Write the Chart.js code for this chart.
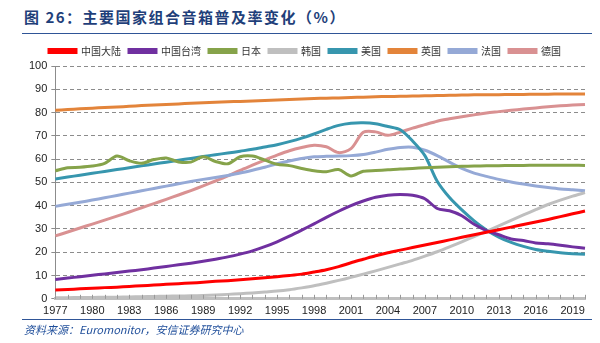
<!DOCTYPE html>
<html><head><meta charset="utf-8">
<script src="https://cdn.jsdelivr.net/npm/chart.js@4/dist/chart.umd.min.js"></script>
<style>
html,body{margin:0;padding:0;background:#fff;}
#wrap{position:relative;width:600px;height:343px;overflow:hidden;font-family:"Noto Sans CJK SC",sans-serif;}
#title{position:absolute;left:24px;top:6px;font-size:15px;font-weight:bold;color:#1F3F7A;letter-spacing:1.5px;white-space:nowrap;}
#tline{position:absolute;left:22px;top:33px;width:570px;height:0;border-top:1.5px solid #2F5597;}
#fline{position:absolute;left:22px;top:319px;width:570px;height:0;border-top:1.5px solid #2F5597;}
#foot{position:absolute;left:24px;top:321px;font-size:11px;font-style:italic;color:#1F4E9A;white-space:nowrap;}
#cv{position:absolute;left:0;top:36px;}
</style></head>
<body><div id="wrap">
<div id="title">图 26：主要国家组合音箱普及率变化（%）</div>
<div id="tline"></div>
<canvas id="cv" width="600" height="288"></canvas>
<div id="fline"></div>
<div id="foot">资料来源：Euromonitor，安信证券研究中心</div>
</div>
<script>
const years = [];
for (let y = 1977; y <= 2020; y++) years.push(String(y));
const seriesNames = ["中国大陆","中国台湾","日本","韩国","美国","英国","法国","德国"];
const chinaMainland = [3.8,4.0,4.3,4.5,4.8,5.0,5.3,5.6,5.9,6.2,6.5,6.8,7.1,7.5,7.8,8.2,8.6,9.0,9.5,10.0,10.6,11.5,12.5,13.8,15.5,17.0,18.5,19.8,20.9,22.0,23.1,24.2,25.3,26.4,27.5,28.6,29.7,30.8,31.9,33.0,34.1,35.3,36.5,37.7];
const chinaTaiwan = [8.3,8.9,9.5,10.1,10.7,11.3,11.9,12.5,13.2,13.9,14.6,15.3,16.1,17.0,18.0,19.2,20.6,22.4,24.5,26.9,29.5,32.2,35.0,37.6,40.0,42.0,43.6,44.5,44.8,44.5,43.0,38.8,37.8,35.7,32.0,29.3,27.5,25.7,25.0,24.0,23.6,23.0,22.3,21.7];
const japan = [55.0,56.3,56.5,57.0,58.2,61.3,59.3,58.2,59.8,60.5,58.8,58.7,61.0,59.0,58.0,61.0,61.3,59.6,57.8,57.2,56.0,55.0,54.6,55.5,52.8,54.8,55.1,55.4,55.8,56.0,56.3,56.5,56.7,56.9,57.0,57.1,57.2,57.3,57.3,57.4,57.4,57.4,57.4,57.3];
const korea = [0.5,0.5,0.6,0.6,0.7,0.7,0.8,0.9,1.0,1.1,1.2,1.3,1.4,1.6,1.9,2.2,2.5,2.9,3.3,3.9,4.7,5.6,6.7,7.9,9.2,10.6,12.0,13.5,15.0,16.5,18.3,20.2,22.3,24.5,26.7,29.0,31.3,33.7,36.0,38.3,40.5,42.4,44.1,45.6];
const usa = [51.5,52.3,53.1,53.9,54.7,55.5,56.3,57.1,57.9,58.7,59.5,60.3,61.1,61.9,62.6,63.4,64.2,65.2,66.2,67.5,69.0,70.8,72.8,74.5,75.4,75.6,75.2,74.0,72.6,67.8,61.5,50.5,43.5,38.2,33.5,29.6,26.5,24.2,22.5,21.2,20.4,19.8,19.4,19.1];
const uk = [81.0,81.3,81.6,81.9,82.2,82.4,82.7,83.0,83.2,83.5,83.7,84.0,84.2,84.4,84.6,84.8,85.0,85.2,85.4,85.6,85.8,86.0,86.2,86.3,86.5,86.6,86.8,86.9,87.0,87.1,87.2,87.3,87.4,87.5,87.6,87.6,87.7,87.8,87.8,87.9,87.9,88.0,88.0,88.0];
const france = [39.7,40.6,41.5,42.4,43.4,44.4,45.4,46.4,47.4,48.4,49.4,50.4,51.3,52.1,53.0,54.0,55.2,56.5,58.0,59.2,60.3,61.0,61.2,61.3,61.5,62.0,63.0,64.2,65.0,65.1,63.8,61.5,58.7,56.0,54.0,52.6,51.3,50.2,49.3,48.5,47.8,47.2,46.8,46.4];
const germany = [27.0,28.7,30.4,32.1,33.8,35.5,37.3,39.1,40.9,42.7,44.6,46.5,48.5,50.6,52.8,55.2,57.4,59.6,61.7,63.6,65.0,66.0,65.3,62.8,64.5,71.5,71.7,70.2,71.6,73.3,74.8,76.3,77.3,78.2,79.0,79.8,80.4,81.0,81.5,82.0,82.5,82.9,83.2,83.5];
const yTicks = [0,10,20,30,40,50,60,70,80,90,100];

const allData = [chinaMainland, chinaTaiwan, japan, korea, usa, uk, france, germany];
const colors = ["#FF0000","#7030A0","#86A34A","#BFBFBF","#3796AE","#E3843A","#95A9D6","#D99192"];

const datasets = seriesNames.map((n, i) => ({
  label: n, data: allData[i], borderColor: colors[i], backgroundColor: colors[i],
  borderWidth: 3, pointRadius: 0, tension: 0.3, fill: false
}));

const innerTicks = {
  id: 'innerTicks',
  afterDatasetsDraw(chart) {
    const xs = chart.scales.x, ctx = chart.ctx, b = chart.chartArea.bottom;
    ctx.save(); ctx.strokeStyle = '#999'; ctx.lineWidth = 1;
    xs.ticks.forEach((t, i) => {
      const x = Math.round(xs.getPixelForTick(i)) + 0.5;
      ctx.beginPath(); ctx.moveTo(x, b); ctx.lineTo(x, b - 4); ctx.stroke();
    });
    ctx.restore();
  }
};

new Chart(document.getElementById('cv'), {
  type: 'line',
  data: { labels: years, datasets },
  plugins: [innerTicks],
  options: {
    responsive: false, animation: false,
    layout: { padding: { left: 25, right: 15, top: 2, bottom: 0 } },
    plugins: {
      legend: {
        position: 'top',
        labels: { boxWidth: 27, boxHeight: 3, padding: 8, color: '#333',
          font: { family: '"Noto Sans CJK SC"', size: 10 } }
      },
      tooltip: { enabled: false }
    },
    scales: {
      x: {
        offset: false,
        grid: { display: false, drawTicks: false },
        border: { color: '#BFBFBF', width: 3 },
        ticks: { autoSkip: false, maxRotation: 0, padding: 6, color: '#222',
          font: { family: 'Liberation Sans, Arial', size: 11 },
          callback: (v, i) => ((i % 3 === 0) ? years[i] : '') }
      },
      y: {
        min: 0, max: 100,
        afterBuildTicks: (s) => { s.ticks = yTicks.map(v => ({ value: v })); },
        grid: { color: '#8C8C8C', lineWidth: 1, tickLength: 4, drawTicks: true,
          tickColor: '#8C8C8C' },
        border: { display: true, color: '#8C8C8C', dash: [4, 3], width: 1 },
        ticks: { padding: 4, color: '#222', font: { family: 'Liberation Sans, Arial', size: 11 } }
      }
    }
  },
});
</script>
</body></html>
